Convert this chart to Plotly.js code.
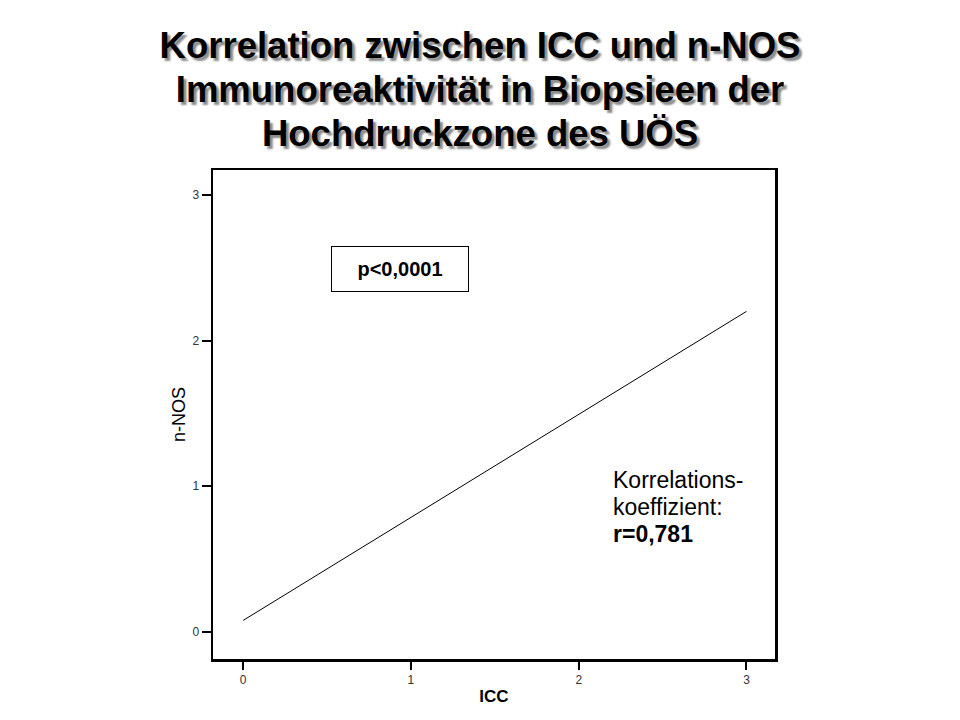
<!DOCTYPE html>
<html>
<head>
<meta charset="utf-8">
<script src="https://cdn.plot.ly/plotly-3.0.1.min.js"></script>
<style>html,body{margin:0;padding:0;background:#fff;}#chart{width:960px;height:720px;}</style>
</head>
<body>
<div id="chart"></div>
<script>
// Regression line (fit of n-NOS on ICC), endpoints
const iccValues = [0, 3];
const nnosFit = [0.08, 2.2];
const xTicks = [0, 1, 2, 3];
const yTicks = [0, 1, 2, 3];
const titleLines = ["Korrelation zwischen ICC und n-NOS", "Immunoreaktivität in Biopsieen der", "Hochdruckzone des UÖS"];
const pText = "p&lt;0,0001";
const corrLines = ["Korrelations-", "koeffizient:", "<b>r=0,781</b>"];

const FONT = 'Liberation Sans, Arial, sans-serif';

const trace = {
  x: iccValues, y: nnosFit, type: 'scatter', mode: 'lines',
  line: {color: '#000', width: 1}, hoverinfo: 'skip', showlegend: false
};

const annotations = [
  {x: 0.936, y: 2.49, xref: 'x', yref: 'y', text: '<b>' + pText + '</b>', showarrow: false,
   font: {family: FONT, size: 20, color: '#000'},
   bordercolor: '#000', borderwidth: 1, borderpad: 1, width: 134, height: 42,
   xanchor: 'center', yanchor: 'middle', bgcolor: '#fff'}
];
const corrY = [1.045, 0.855, 0.67];
corrLines.forEach((t, i) => annotations.push({
  x: 2.19, y: corrY[i], xref: 'x', yref: 'y', text: t, showarrow: false,
  xanchor: 'left', yanchor: 'middle',
  font: {family: FONT, size: 23, color: '#000'}
}));

const layout = {
  width: 960, height: 720,
  paper_bgcolor: '#fff', plot_bgcolor: '#fff',
  margin: {l: 213, r: 185, t: 170, b: 61},
  title: {
    text: titleLines.map(s => '<span style="font-size:36.5px">' + s + '</span>').join('<br>'),
    x: 0.5, xanchor: 'center', yref: 'container', y: 0.92, yanchor: 'middle',
    font: {family: FONT, size: 34, color: '#000', weight: 'bold',
           shadow: '3px 3px 2px #8a8a8a'}
  },
  xaxis: {
    range: [-0.18, 3.17], tickvals: xTicks, ticktext: xTicks.map(String),
    showgrid: false, zeroline: false, showline: true, linecolor: '#000', linewidth: 2.5, mirror: true,
    ticks: 'outside', ticklen: 8, tickwidth: 2, tickcolor: '#000',
    tickfont: {family: FONT, size: 12, color: '#333'},
    title: {text: '<b>ICC</b>', standoff: 4, font: {family: FONT, size: 17, color: '#000'}}
  },
  yaxis: {
    range: [-0.185, 3.17], tickvals: yTicks, ticktext: yTicks.map(String),
    showgrid: false, zeroline: false, showline: true, linecolor: '#000', linewidth: 2.5, mirror: true,
    ticks: 'outside', ticklen: 9, tickwidth: 2, tickcolor: '#000',
    tickfont: {family: FONT, size: 12, color: '#333'},
    title: {text: 'n-NOS', standoff: 2, font: {family: FONT, size: 18, color: '#000'}}
  },
  annotations: annotations
};

Plotly.newPlot('chart', [trace], layout, {staticPlot: true, displayModeBar: false});
</script>
</body>
</html>
